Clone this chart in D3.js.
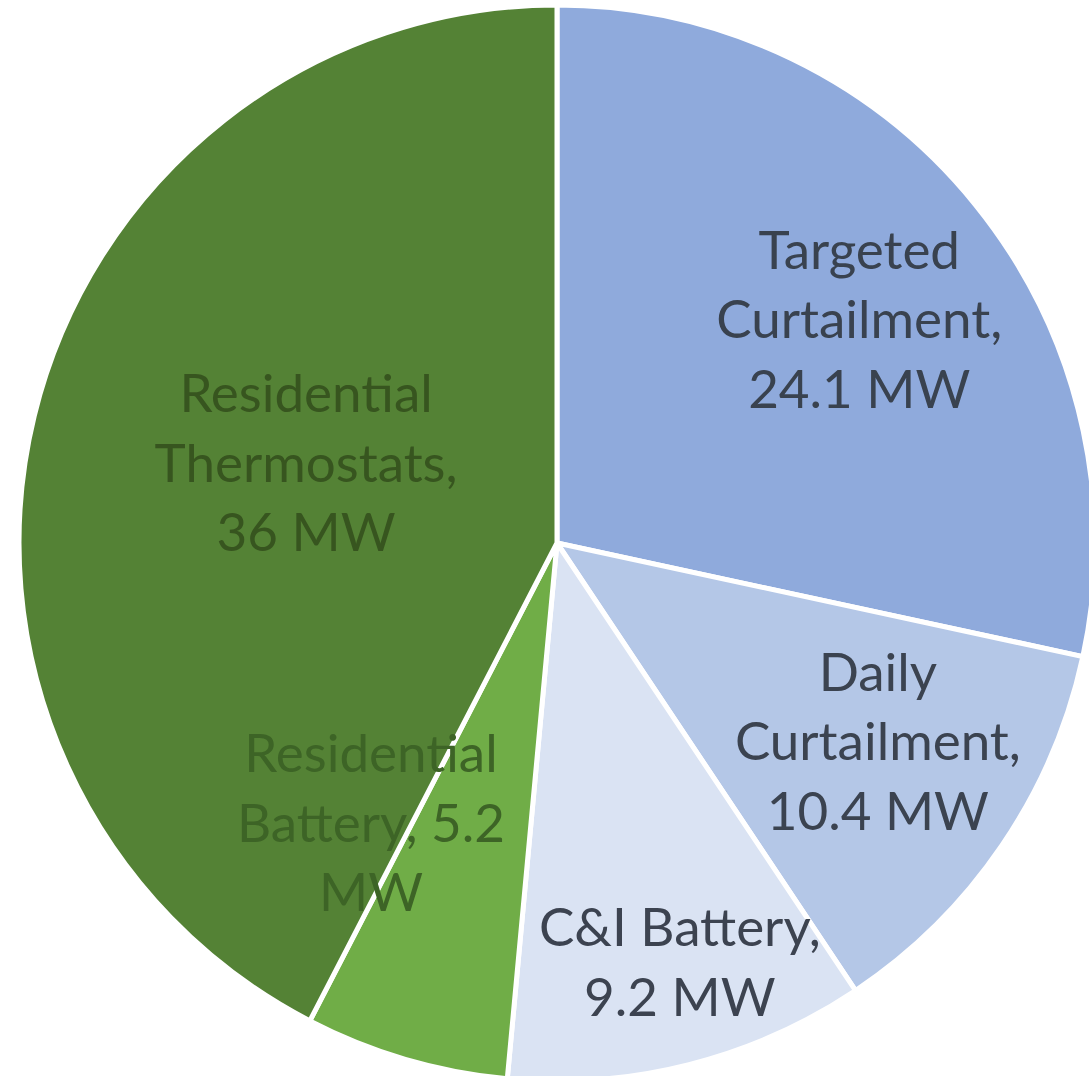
<!DOCTYPE html>
<html>
<head>
<meta charset="utf-8">
<script src="https://cdn.jsdelivr.net/npm/d3@7"></script>
<style>
  html, body { margin: 0; padding: 0; background: #ffffff; }
  svg { display: block; }
</style>
</head>
<body>
<svg id="chart" width="1089" height="1076"></svg>
<script>
// ---- data ----
const categories = ["Targeted Curtailment", "Daily Curtailment", "C&I Battery", "Residential Battery", "Residential Thermostats"];
const values = [24.1, 10.4, 9.2, 5.2, 36];
const labelLines = [
  ["Targeted", "Curtailment,", "24.1 MW"],
  ["Daily", "Curtailment,", "10.4 MW"],
  ["C&I Battery,", "9.2 MW"],
  ["Residential", "Battery, 5.2", "MW"],
  ["Residential", "Thermostats,", "36 MW"]
];

// ---- styles / layout ----
const sliceColors = ["#8faadc", "#b4c7e7", "#dae3f3", "#70ad47", "#548235"];
const textColors = ["#39424f", "#3b4350", "#3c4350", "#3d6426", "#37551f"];
// label placement: angle nudge (deg) and radius fraction, like Excel best-fit
const labelPlace = [
  { da: 2.5, k: 0.698 },
  { da: -2.4, k: 0.702 },
  { da: -2.1, k: 0.813 },
  { da: 17.2, k: 0.626 },
  { da: 3.8, k: 0.489 }
];

const W = 1089, H = 1076;
const cx = 557, cy = 543, R = 538;
const fontFamily = "Lato, 'Open Sans', sans-serif";
const lineGap = 69.5;

const svg = d3.select("#chart");
const g = svg.append("g").attr("transform", `translate(${cx},${cy})`);

const pie = d3.pie().sort(null).value(d => d.value);
const data = categories.map((c, i) => ({ name: c, value: values[i], i }));
const arcs = pie(data);
const arc = d3.arc().innerRadius(0).outerRadius(R);

g.selectAll("path.slice")
  .data(arcs)
  .join("path")
  .attr("class", "slice")
  .attr("d", arc)
  .attr("fill", d => sliceColors[d.data.i])
  .attr("stroke", "#ffffff")
  .attr("stroke-width", 5)
  .attr("stroke-linejoin", "round");

// fit font size so "Curtailment," matches the reference width (~286px)
const probe = svg.append("text").attr("font-family", fontFamily).attr("font-size", 100).text("Curtailment,");
const probeW = probe.node().getComputedTextLength();
probe.remove();
const fontSize = Math.min(56, 286 / probeW * 100);

const labels = g.selectAll("text.lbl")
  .data(arcs)
  .join("text")
  .attr("class", "lbl")
  .attr("font-family", fontFamily)
  .attr("font-size", fontSize)
  .attr("text-anchor", "middle")
  .attr("fill", d => textColors[d.data.i])
  .attr("transform", d => {
    const p = labelPlace[d.data.i];
    const a = (d.startAngle + d.endAngle) / 2 + p.da * Math.PI / 180;
    const r = R * p.k;
    return `translate(${r * Math.sin(a)},${-r * Math.cos(a)})`;
  });

labels.each(function(d) {
  const lines = labelLines[d.data.i];
  const n = lines.length;
  d3.select(this).selectAll("tspan")
    .data(lines)
    .join("tspan")
    .attr("x", 0)
    .attr("y", (t, j) => (j - (n - 1) / 2) * lineGap + 18)
    .text(t => t);
});
</script>
</body>
</html>
